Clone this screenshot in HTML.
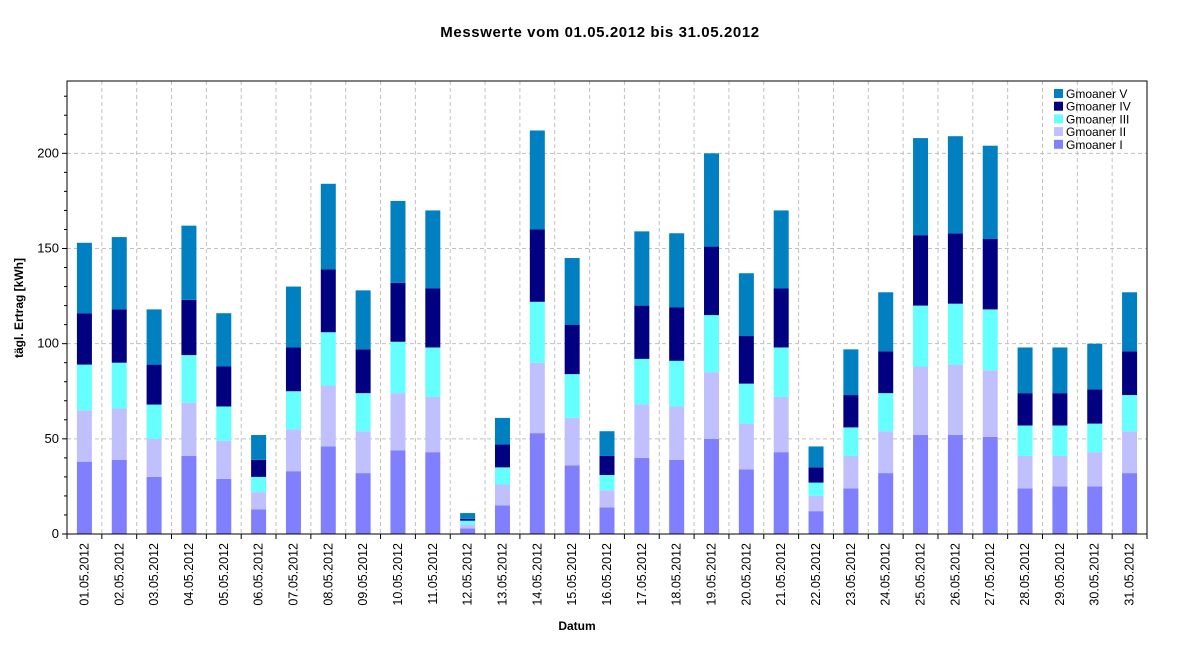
<!DOCTYPE html>
<html><head><meta charset="utf-8"><style>
body{margin:0;background:#fff;}
svg text{font-family:"Liberation Sans",sans-serif;}
</style></head><body>
<svg id="chart" width="1200" height="641" xmlns="http://www.w3.org/2000/svg">
<text x="600" y="37" text-anchor="middle" font-size="15" font-weight="bold" letter-spacing="0.6">Messwerte vom 01.05.2012 bis 31.05.2012</text>
<text transform="translate(23,308) rotate(-90)" text-anchor="middle" font-size="12" font-weight="bold">tägl. Ertrag [kWh]</text>
<text x="577" y="630" text-anchor="middle" font-size="12" font-weight="bold">Datum</text>
<g id="grid"></g><g id="bars"></g><g id="axes"></g>
<g id="legend"></g>
</svg>
<script>
const categories = Array.from({length:31},(_,i)=>String(i+1).padStart(2,'0')+'.05.2012');
const seriesNames = ['Gmoaner I','Gmoaner II','Gmoaner III','Gmoaner IV','Gmoaner V'];
const s1 = [38,39,30,41,29,13,33,46,32,44,43,3,15,53,36,14,40,39,50,34,43,12,24,32,52,52,51,24,25,25,32];
const s2 = [27,27,20,28,20,9,22,32,22,30,29,2,11,37,25,9,28,28,35,24,29,8,17,22,36,37,35,17,16,18,22];
const s3 = [24,24,18,25,18,8,20,28,20,27,26,2,9,32,23,8,24,24,30,21,26,7,15,20,32,32,32,16,16,15,19];
const s4 = [27,28,21,29,21,9,23,33,23,31,31,1,12,38,26,10,28,28,36,25,31,8,17,22,37,37,37,17,17,18,23];
const s5 = [37,38,29,39,28,13,32,45,31,43,41,3,14,52,35,13,39,39,49,33,41,11,24,31,51,51,49,24,24,24,31];
const yTicks = [0,50,100,150,200];
const colors = ['#8080ff','#c0c0ff','#66ffff','#000080','#0080c0'];
const L=67,R=1147,T=81,B=534,yMax=238;
const series=[s1,s2,s3,s4,s5];
const ns='http://www.w3.org/2000/svg';
function y(v){return B-(v/yMax)*(B-T);}
const slot=(R-L)/categories.length;
function xc(i){return L+slot*(i+0.5);}
function mk(tag,attrs,parent){const e=document.createElementNS(ns,tag);for(const k in attrs)e.setAttribute(k,attrs[k]);document.getElementById(parent).appendChild(e);return e;}
yTicks.forEach(t=>{if(t===0)return;const g=mk('line',{x1:L,x2:R,y1:y(t),y2:y(t),stroke:'#c0c0c0','stroke-dasharray':'4,3'},'grid');

});
for(let i=1;i<categories.length;i++){const g=mk('line',{x1:L+slot*i,x2:L+slot*i,y1:T,y2:B,stroke:'#c0c0c0','stroke-dasharray':'4,3'},'grid');

}
categories.forEach((c,i)=>{let acc=0;series.forEach((s,k)=>{const v=s[i];const r=mk('rect',{x:xc(i)-7.5,width:15,y:y(acc+v),height:y(acc)-y(acc+v),fill:colors[k]},'bars');


acc+=v;});});
mk('rect',{x:L,y:T,width:R-L,height:B-T,fill:'none',stroke:'#000','stroke-width':1},'axes');
for(let v=0;v<=230;v+=10){const tk=mk('line',{x1:L-(v%50===0?5:3),x2:L,y1:y(v),y2:y(v),stroke:'#000'},'axes');

}
yTicks.forEach(t=>{const tx=mk('text',{x:L-8,y:y(t)+4,'text-anchor':'end','font-size':13},'axes');tx.textContent=t;

});
for(let i=0;i<=categories.length;i++){const tk=mk('line',{x1:L+slot*i,x2:L+slot*i,y1:B,y2:B+5,stroke:'#000'},'axes');

}
categories.forEach((c,i)=>{const tx=mk('text',{transform:`translate(${xc(i)+4},543) rotate(-90)`,'text-anchor':'end','font-size':12.5},'axes');tx.textContent=c;

});
for(let k=4;k>=0;k--){const row=4-k;const ly=89+row*12.7;
const r=mk('rect',{x:1054,y:ly,width:9,height:9,fill:colors[k]},'legend');


const t=mk('text',{x:1066,y:ly+9,'font-size':12},'legend');t.textContent=seriesNames[k];

}
</script>
</body></html>
